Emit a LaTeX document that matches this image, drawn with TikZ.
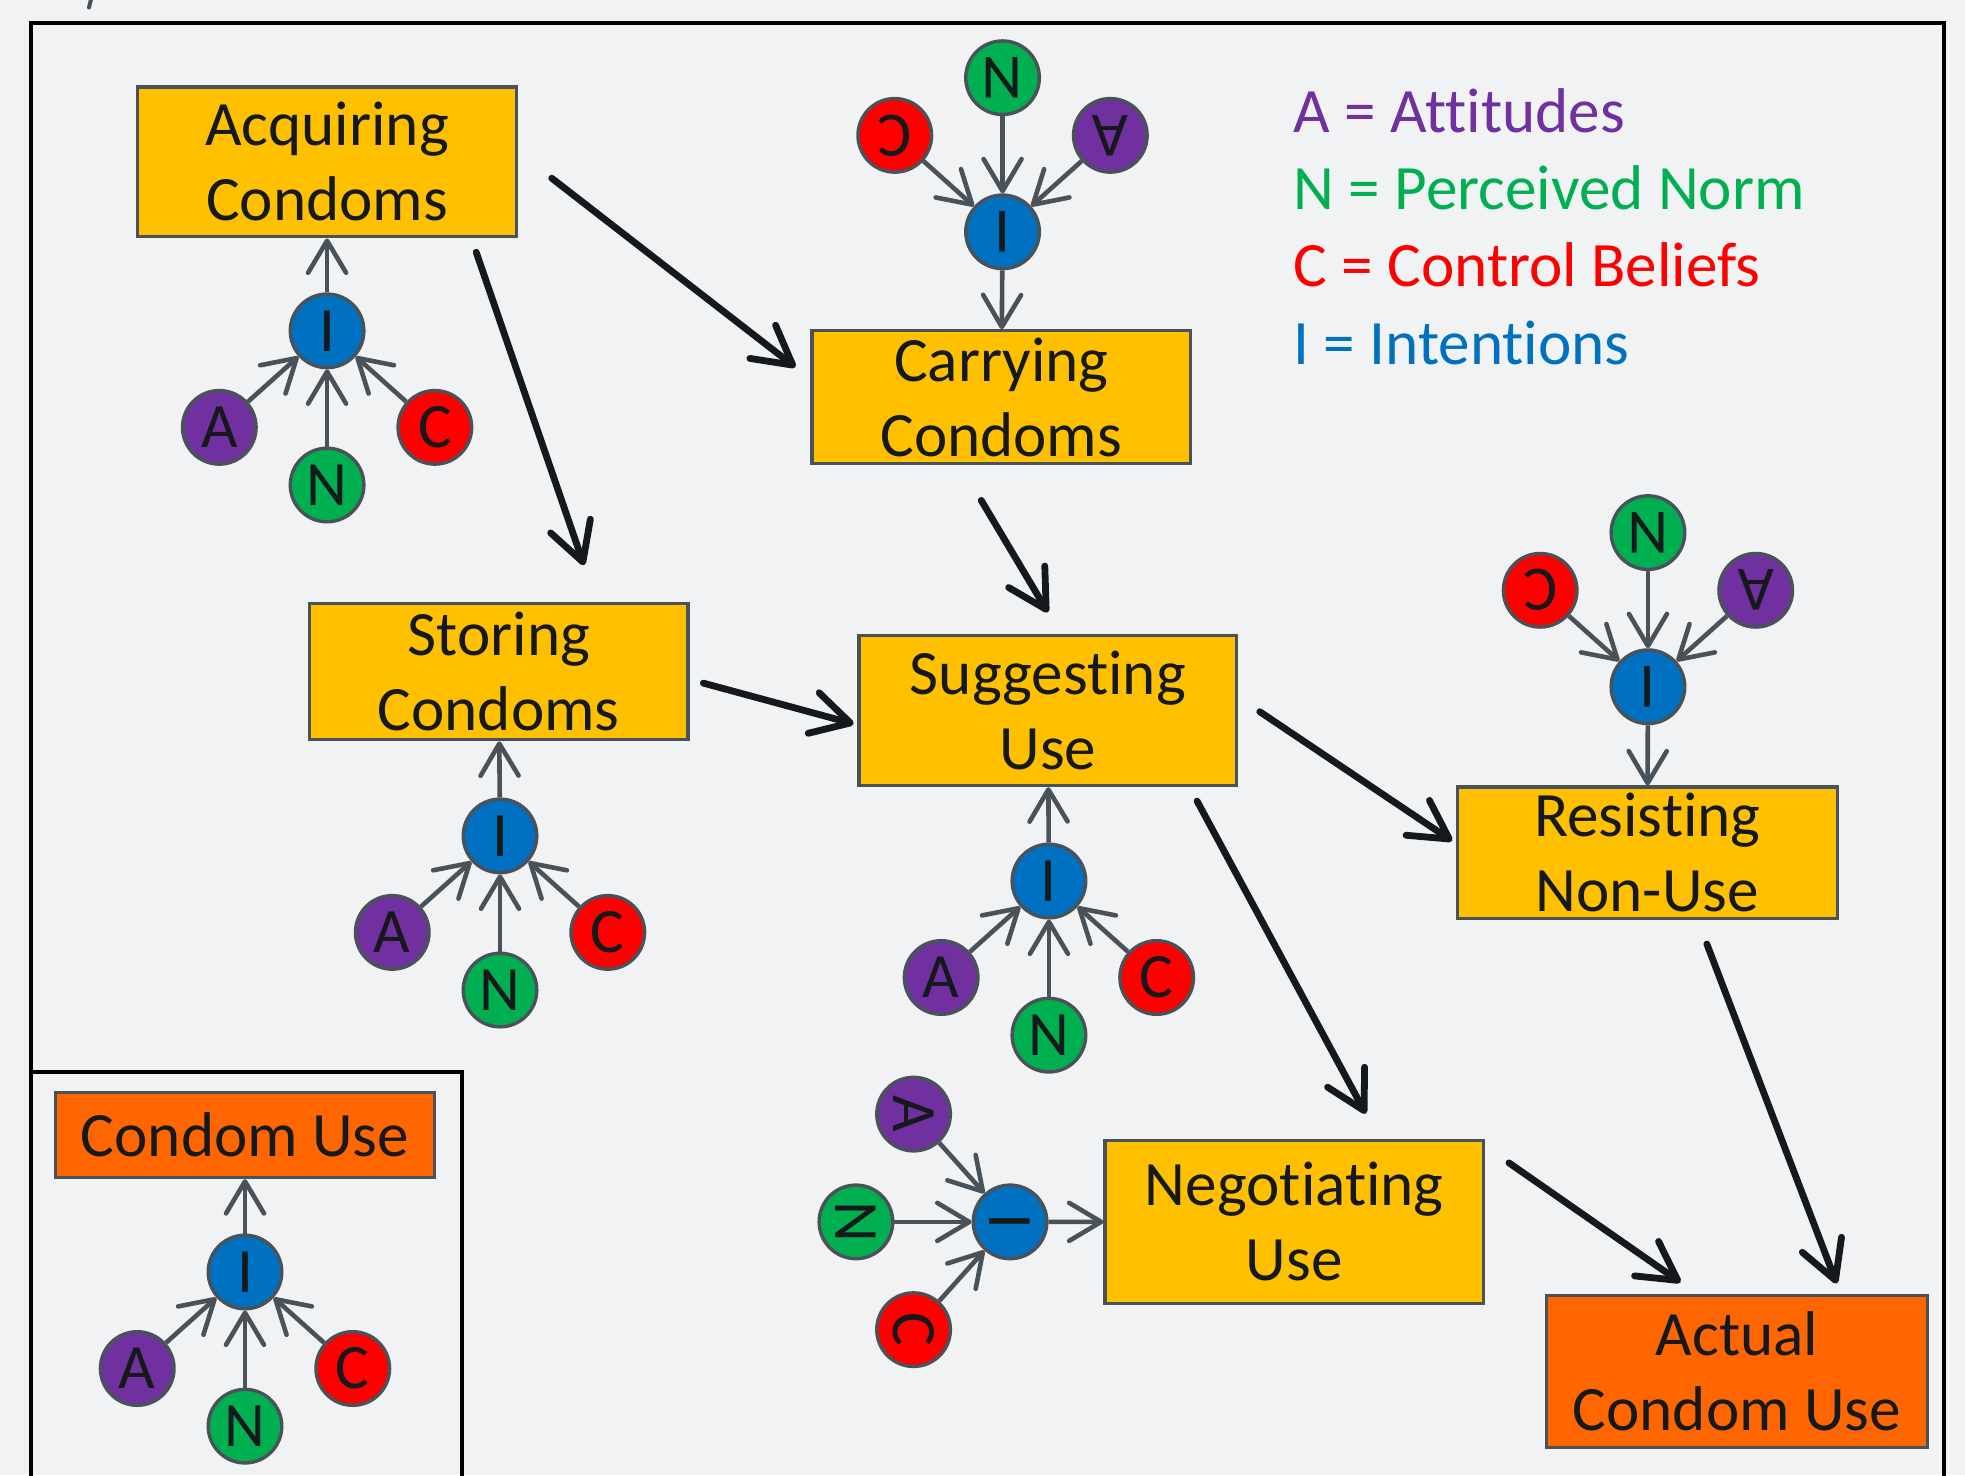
\documentclass[tikz,border=0pt]{standalone}
\usepackage{fontspec}
\setmainfont{Carlito}[Ligatures=NoCommon]
\usetikzlibrary{arrows.meta}
\newdimen\upx \upx=0.6266pt
\definecolor{bg}{HTML}{F0F2F4}
\definecolor{boxy}{HTML}{FFC000}
\definecolor{boxo}{HTML}{FF6600}
\definecolor{edge}{HTML}{4A5259}
\definecolor{ca}{HTML}{7030A0}
\definecolor{cn}{HTML}{00B050}
\definecolor{cc}{HTML}{FF0000}
\definecolor{ci}{HTML}{0070C0}
\definecolor{ink}{HTML}{15191C}
\tikzset{
 stage/.style={draw=edge, line width=1.6pt, fill=boxy, inner sep=0pt, align=center, font=\fontsize{31.6}{37.5}\selectfont, text=ink},
 outcome/.style={stage, fill=boxo},
 circ/.style={circle, draw=edge, line width=1.7pt, minimum size=36.8pt, inner sep=0pt, font=\fontsize{31.6}{37.5}\selectfont, text=ink},
 garrow/.style={draw=edge, line width=2.3pt, -{Straight Barb[length=16pt,width=19pt,round]}},
 barrow/.style={draw=ink, line width=3.4pt, line cap=round, -{Straight Barb[length=19pt,width=21pt,round]}},
 legend/.style={anchor=base west, inner sep=0pt, font=\fontsize{31.6}{37.5}\selectfont},
 frameline/.style={draw=black, line width=2pt},
}
\newcommand\tpbcluster[4]{%
 \begin{scope}[shift={(#2,#3)}, rotate=#4]
  \node[circ, fill=ci, rotate=#4] (#1I) at (0,0) {I};
  \node[circ, fill=ca, rotate=#4] (#1A) at (-86,77) {A};
  \node[circ, fill=cn, rotate=#4] (#1N) at (0,123) {N};
  \node[circ, fill=cc, rotate=#4] (#1C) at (86,77) {C};
  \draw[garrow] (#1A) -- (#1I);
  \draw[garrow] (#1N) -- (#1I);
  \draw[garrow] (#1C) -- (#1I);
 \end{scope}}
\begin{document}
\begin{tikzpicture}[x=\upx, y=-\upx]
\fill[bg] (0,0) rectangle (1568,1177);
\useasboundingbox (0,0) rectangle (1568,1177);
% frames
\draw[frameline] (25,1200) -- (25,18.5) -- (1551,18.5) -- (1551,1200);
\draw[frameline] (25,855) -- (368.5,855) -- (368.5,1200);
\draw[edge, line width=2pt, line cap=round] (71,6) -- (73,-2);
% boxes
\node[stage, minimum width=302*\upx, minimum height=119.6*\upx] (acq) at (261,129.2) {Acquiring\\Condoms};
\node[stage, minimum width=302*\upx, minimum height=106*\upx] (car) at (799,317) {Carrying\\Condoms};
\node[stage, minimum width=302*\upx, minimum height=109*\upx] (sto) at (398,535.8) {Storing\\Condoms};
\node[stage, minimum width=301.5*\upx, minimum height=120*\upx] (sug) at (836.2,566.9) {Suggesting\\Use};
\node[stage, minimum width=303*\upx, minimum height=105*\upx] (res) at (1314.5,680.5) {Resisting\\Non-Use};
\node[stage, minimum width=302*\upx, minimum height=130*\upx] (neg) at (1032.8,974.9) {Negotiating\\Use};
\node[outcome, minimum width=304*\upx, minimum height=121*\upx] (act) at (1386,1094.5) {Actual\\Condom Use};
\node[outcome, minimum width=303*\upx, minimum height=68*\upx] (cu) at (195.5,905.6) {Condom Use};
% clusters
\tpbcluster{acq}{261}{264}{0}
\tpbcluster{car}{800}{185}{180}
\tpbcluster{sto}{399}{667}{0}
\tpbcluster{sug}{837}{703}{0}
\tpbcluster{res}{1315}{548}{180}
\tpbcluster{neg}{806}{975}{-90}
\tpbcluster{cu}{195.5}{1015}{0}
\draw[garrow] (acqI) -- (acq);
\draw[garrow] (carI) -- (car);
\draw[garrow] (stoI) -- (sto);
\draw[garrow] (sugI) -- (sug);
\draw[garrow] (resI) -- (res);
\draw[garrow] (negI) -- (neg);
\draw[garrow] (cuI) -- (cu);
% main arrows
\draw[barrow] ([shift={(27,13)}]acq.east) -- ([shift={(-12,-24)}]car.west);
\draw[barrow] ([shift={(119,11)}]acq.south) -- ([shift={(68,-29)}]sto.north);
\draw[barrow] ([shift={(-16,28)}]car.south) -- ([shift={(0,-17)}]sug.north);
\draw[barrow] ([shift={(11,9.3)}]sto.east) -- ([shift={(-3,10.7)}]sug.west);
\draw[barrow] ([shift={(17,1)}]sug.east) -- ([shift={(-3,-9.5)}]res.west);
\draw[barrow] ([shift={(119,11)}]sug.south) -- ([shift={(57,-20)}]neg.north);
\draw[barrow] ([shift={(47.5,19)}]res.south) -- ([shift={(79.6,-8.6)}]act.north);
\draw[barrow] ([shift={(19,-47)}]neg.east) -- ([shift={(-45,-9.5)}]act.north);
% legend
\node[legend, text=ca] (legA) at (1032,106) {A = Attitudes};
\node[legend, text=cn] (legN) at (1032,167.5) {N = Perceived Norm};
\node[legend, text=cc] (legC) at (1032,229) {C = Control Beliefs};
\node[legend, text=ci] (legI) at (1032,291) {I = Intentions};
\end{tikzpicture}
\end{document}
